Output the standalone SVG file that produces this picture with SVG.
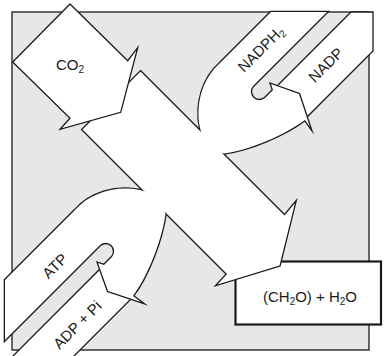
<svg xmlns="http://www.w3.org/2000/svg" width="384" height="356" viewBox="0 0 384 356">
<style>
.bg{fill:#e6e7e9;stroke:#1a1a1a;stroke-width:1.3}
.sh{fill:#fff;stroke:#1a1a1a;stroke-width:1.3;stroke-linejoin:miter;stroke-miterlimit:12}
.outl{fill:#fff;stroke:#1a1a1a;stroke-width:2.6;stroke-linejoin:miter;stroke-miterlimit:12}
.fil{fill:#fff;stroke:none}
.box{fill:#fff;stroke:#1a1a1a;stroke-width:2.2}
text{font-family:"Liberation Sans",Arial,sans-serif;font-size:15px;fill:#1a1a1a}
.sub{font-size:10px}
</style>
<defs>
<path id="main" d="M140.5,71.5 L284.5,215.5 L295,203 L279.5,265.5 L217.5,284.5 L227,274 L82.5,129.5 Z"/>
<path id="unadph" d="M271,12 L220,63 C203,78 195,103 200,128 C203,142 212,151 224,153.5 C250,150 285,135 305,120 L310,127 L299,94 L271,84 L273,90 L265,98 A8.5,8.5 0 0 1 253,86 L327,12 Z"/>
<path id="uatp" d="M5,280 L75,210 C90,193 115,185 140,190 C154,193 163,202 165.5,214 C162,240 148,276 133,296 L141,302 L108,291 L98,263 L104,265 L112,257 A8.5,8.5 0 0 0 100,245 L5,340 Z"/>
</defs>
<rect id="background" class="bg" x="12" y="12" width="357" height="338"/>
<g id="node-ch2o">
<rect class="box" x="235.5" y="261.5" width="145.5" height="63"/>
</g>
<g id="node-nadp">
<path class="sh" d="M351,12 L276,87 L296.5,96.5 L306,118 L373,51 L373,12 Z"/>
<text transform="translate(326,65) rotate(-45)" text-anchor="middle" y="5">NADP</text>
</g>
<g id="node-adp">
<path class="sh" d="M9,360 L101.25,267.75 L110.5,288.5 L132.25,297.75 L70,360 Z"/>
<text transform="translate(77.5,325) rotate(-45)" text-anchor="middle" y="5">ADP + Pi</text>
</g>
<g id="connectors">
<use href="#main" class="outl"/>
<use href="#unadph" class="outl"/>
<use href="#uatp" class="outl"/>
<use href="#main" class="fil"/>
<use href="#unadph" class="fil"/>
<use href="#uatp" class="fil"/>
</g>
<g id="node-co2">
<path class="sh" d="M70,4 L127.7,60.7 L137.7,47.7 L120.7,112.3 L60,129.3 L70,118.3 L12.7,62 Z"/>
<text x="70" y="70" text-anchor="middle">CO<tspan class="sub" dy="3">2</tspan></text>
</g>
<g id="node-nadph2">
<text transform="translate(261,49) rotate(-45)" text-anchor="middle" y="5">NADPH<tspan class="sub" dy="3">2</tspan></text>
</g>
<g id="node-atp">
<text transform="translate(55,266) rotate(-45)" text-anchor="middle" y="5">ATP</text>
</g>
<g id="node-ch2o-label">
<text x="310" y="302" text-anchor="middle">(CH<tspan class="sub" dy="3">2</tspan><tspan dy="-3">O) + H</tspan><tspan class="sub" dy="3">2</tspan><tspan dy="-3">O</tspan></text>
</g>
</svg>
